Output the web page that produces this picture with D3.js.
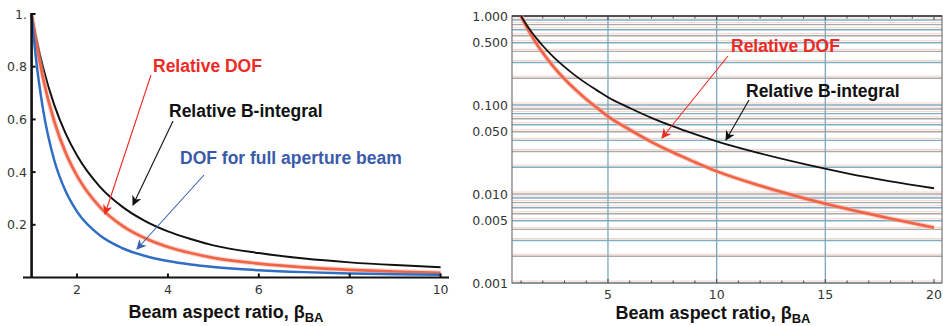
<!DOCTYPE html>
<html>
<head>
<meta charset="utf-8">
<script src="https://cdn.jsdelivr.net/npm/d3@7"></script>
<style>
  body { margin: 0; background: #fff; }
  svg { display: block; font-family: Arial, "Liberation Sans", sans-serif; }
  .tick-label { font-family: "DejaVu Sans", sans-serif; font-size: 12.5px; fill: #353535; }
  .title { font-size: 18px; font-weight: bold; fill: #111; }
  .note { font-size: 17.5px; font-weight: bold; }
</style>
</head>
<body>
<svg id="chart" width="943" height="326"></svg>
<script>
// beam aspect ratio samples
var beta = [1, 1.1, 1.25, 1.5, 1.75, 2, 2.5, 3, 3.5, 4, 4.5, 5, 6, 7, 8, 9, 10, 12, 14, 16, 18, 20];
// relative B-integral (black)
var bInt = [1, 0.911, 0.799, 0.654, 0.546, 0.463, 0.345, 0.268, 0.214, 0.175, 0.146, 0.122, 0.0926, 0.0718, 0.0574, 0.0470, 0.0390, 0.0286, 0.0218, 0.0171, 0.0139, 0.0116];
// relative DOF (red)
var dofRel = [1, 0.892, 0.758, 0.592, 0.473, 0.386, 0.268, 0.196, 0.149, 0.116, 0.0928, 0.0745, 0.0527, 0.0385, 0.0292, 0.0228, 0.0180, 0.0124, 0.0090, 0.0068, 0.0053, 0.0042];
// DOF for full aperture beam (blue), left panel only
var dofFull = [1, 0.826, 0.640, 0.444, 0.327, 0.250, 0.160, 0.111, 0.0816, 0.0625, 0.0494, 0.0400, 0.0278, 0.0204, 0.0156, 0.0123, 0.0100];

var leftYTicks = [0.2, 0.4, 0.6, 0.8, 1];
var leftXTicks = [2, 4, 6, 8, 10];
var rightYTicks = [1, 0.5, 0.1, 0.05, 0.01, 0.005, 0.001];
var rightXTicks = [5, 10, 15, 20];

var svg = d3.select("#chart");
var defs = svg.append("defs");

function marker(id, color) {
  defs.append("marker")
    .attr("id", id)
    .attr("viewBox", "0 0 10 10")
    .attr("refX", 9).attr("refY", 5)
    .attr("markerWidth", 10).attr("markerHeight", 10)
    .attr("markerUnits", "userSpaceOnUse")
    .attr("orient", "auto")
    .append("path")
    .attr("d", "M0,0 L10,5 L0,10 L3,5 Z")
    .attr("fill", color);
}
marker("arRed", "#ee2a24");
marker("arBlack", "#111");
marker("arBlue", "#3a5fb0");

function arrow(x1, y1, x2, y2, color, id) {
  svg.append("line")
    .attr("x1", x1).attr("y1", y1).attr("x2", x2).attr("y2", y2)
    .attr("stroke", color).attr("stroke-width", 1.1)
    .attr("marker-end", "url(#" + id + ")");
}

function note(x, y, txt, color) {
  svg.append("text").attr("class", "note")
    .attr("x", x).attr("y", y).attr("fill", color).text(txt);
}

function xTitle(cx, y) {
  var t = svg.append("text").attr("class", "title")
    .attr("x", cx).attr("y", y).attr("text-anchor", "middle");
  t.append("tspan").text("Beam aspect ratio, \u03b2");
  t.append("tspan").attr("font-size", 13).attr("dy", 4).text("BA");
}

// ---------- left panel (linear) ----------
var xL = d3.scaleLinear().domain([1, 10]).range([31.6, 440.6]);
var yL = d3.scaleLinear().domain([0, 1]).range([277.5, 14]);

var gL = svg.append("g");

var lineL = function(vals) {
  return d3.line()
    .x(function(d, i) { return xL(beta[i]); })
    .y(function(d) { return yL(d); })
    .curve(d3.curveMonotoneX)(vals);
};

var bIntL = bInt.filter(function(d, i) { return beta[i] <= 10; });
var dofRelL = dofRel.filter(function(d, i) { return beta[i] <= 10; });

gL.append("path").attr("d", lineL(bIntL)).attr("fill", "none")
  .attr("stroke", "#111").attr("stroke-width", 2);
gL.append("path").attr("d", lineL(dofRelL)).attr("fill", "none")
  .attr("stroke", "#f7b0a0").attr("stroke-width", 5).attr("opacity", 0.5);
gL.append("path").attr("d", lineL(dofRelL)).attr("fill", "none")
  .attr("stroke", "#f06548").attr("stroke-width", 2.7);
gL.append("path").attr("d", lineL(dofFull)).attr("fill", "none")
  .attr("stroke", "#2f6ec4").attr("stroke-width", 2.5);

// axes
gL.append("line").attr("x1", 23).attr("x2", 449)
  .attr("y1", yL(0)).attr("y2", yL(0))
  .attr("stroke", "#111").attr("stroke-width", 2);
gL.append("line").attr("x1", xL(1)).attr("x2", xL(1))
  .attr("y1", yL(1) - 1).attr("y2", yL(0))
  .attr("stroke", "#111").attr("stroke-width", 2.6);

gL.selectAll(".yt").data(leftYTicks).enter().append("line")
  .attr("x1", xL(1)).attr("x2", xL(1) + 4)
  .attr("y1", function(d) { return yL(d); })
  .attr("y2", function(d) { return yL(d); })
  .attr("stroke", "#111").attr("stroke-width", 2);
gL.selectAll(".yl").data(leftYTicks).enter().append("text")
  .attr("class", "tick-label")
  .attr("x", 27).attr("y", function(d) { return yL(d) + 4.5; })
  .attr("text-anchor", "end")
  .text(function(d) { return d === 1 ? "1." : d3.format(".1f")(d); });

gL.selectAll(".xt").data(leftXTicks).enter().append("line")
  .attr("x1", function(d) { return xL(d); })
  .attr("x2", function(d) { return xL(d); })
  .attr("y1", yL(0)).attr("y2", yL(0) - 4)
  .attr("stroke", "#111").attr("stroke-width", 2);
gL.selectAll(".xl").data(leftXTicks).enter().append("text")
  .attr("class", "tick-label")
  .attr("x", function(d) { return xL(d); }).attr("y", 294)
  .attr("text-anchor", "middle")
  .text(function(d) { return d; });

xTitle(226, 318);

note(153, 72, "Relative DOF", "#ee2a24");
note(169, 117, "Relative B-integral", "#111");
note(180, 164, "DOF for full aperture beam", "#3a5aaa");
arrow(151, 75, 105, 214, "#ee2a24", "arRed");
arrow(173, 121, 133, 205, "#111", "arBlack");
arrow(204, 175, 137, 249, "#3a5fb0", "arBlue");

// ---------- right panel (log) ----------
var xR = d3.scaleLinear().domain([0, 20]).range([499.3, 934]);
var yR = d3.scaleLog().domain([0.001, 1]).range([283, 16]);
var left = xR(0.584), right = 942;

var gR = svg.append("g");

var minor = [];
[-3, -2, -1].forEach(function(k) {
  for (var m = 1; m <= 9; m++) minor.push(m * Math.pow(10, k));
});

// horizontal grid: faint pink twin plus blue/grey line
gR.selectAll(".hp").data(minor).enter().append("line")
  .attr("x1", left).attr("x2", right)
  .attr("y1", function(d) { return yR(d) - 2; })
  .attr("y2", function(d) { return yR(d) - 2; })
  .attr("stroke", "#f8d2c6").attr("stroke-width", 1);
gR.selectAll(".hg").data(minor).enter().append("line")
  .attr("x1", left).attr("x2", right)
  .attr("y1", function(d) { return yR(d); })
  .attr("y2", function(d) { return yR(d); })
  .attr("stroke", function(d, i) { return i % 2 ? "#aaaaaa" : "#7eaec4"; })
  .attr("stroke-width", 1.4);

// vertical grid
gR.selectAll(".vg").data([5, 10, 15]).enter().append("line")
  .attr("x1", function(d) { return xR(d); })
  .attr("x2", function(d) { return xR(d); })
  .attr("y1", yR(1)).attr("y2", yR(0.001))
  .attr("stroke", "#7aa8bc").attr("stroke-width", 1.3);

// frame
gR.append("rect").attr("x", left).attr("y", yR(1))
  .attr("width", right - left).attr("height", yR(0.001) - yR(1))
  .attr("fill", "none").attr("stroke", "#777").attr("stroke-width", 1.2);
gR.append("line").attr("x1", left).attr("x2", right)
  .attr("y1", yR(1)).attr("y2", yR(1))
  .attr("stroke", "#333").attr("stroke-width", 1.3);

// small integer ticks top and bottom
var ints = d3.range(1, 21);
gR.selectAll(".tt").data(ints).enter().append("line")
  .attr("x1", function(d) { return xR(d); })
  .attr("x2", function(d) { return xR(d); })
  .attr("y1", yR(1)).attr("y2", function(d) { return yR(1) + (d % 5 ? 2.5 : 4); })
  .attr("stroke", "#444").attr("stroke-width", 1);
gR.selectAll(".bt").data(ints).enter().append("line")
  .attr("x1", function(d) { return xR(d); })
  .attr("x2", function(d) { return xR(d); })
  .attr("y1", yR(0.001)).attr("y2", function(d) { return yR(0.001) - (d % 5 ? 2.5 : 4); })
  .attr("stroke", "#444").attr("stroke-width", 1);

var lineR = function(vals) {
  return d3.line()
    .x(function(d, i) { return xR(beta[i]); })
    .y(function(d) { return yR(d); })
    .curve(d3.curveMonotoneX)(vals);
};

gR.append("path").attr("d", lineR(dofRel)).attr("fill", "none")
  .attr("stroke", "#f7b0a0").attr("stroke-width", 5).attr("opacity", 0.5);
gR.append("path").attr("d", lineR(dofRel)).attr("fill", "none")
  .attr("stroke", "#f06548").attr("stroke-width", 2.8);
gR.append("path").attr("d", lineR(bInt)).attr("fill", "none")
  .attr("stroke", "#111").attr("stroke-width", 1.8);

gR.selectAll(".ryl").data(rightYTicks).enter().append("text")
  .attr("class", "tick-label")
  .attr("x", 508).attr("y", function(d) { return yR(d) + 4.5; })
  .attr("text-anchor", "end")
  .text(function(d) { return d3.format(".3f")(d); });
gR.selectAll(".rxl").data(rightXTicks).enter().append("text")
  .attr("class", "tick-label")
  .attr("x", function(d) { return xR(d); }).attr("y", 298.5)
  .attr("text-anchor", "middle")
  .text(function(d) { return d; });

xTitle(713, 319);

note(731, 52, "Relative DOF", "#ee2a24");
note(746, 97, "Relative B-integral", "#111");
arrow(728, 56, 662, 138, "#ee2a24", "arRed");
arrow(749, 100, 726, 140, "#111", "arBlack");
</script>
</body>
</html>
